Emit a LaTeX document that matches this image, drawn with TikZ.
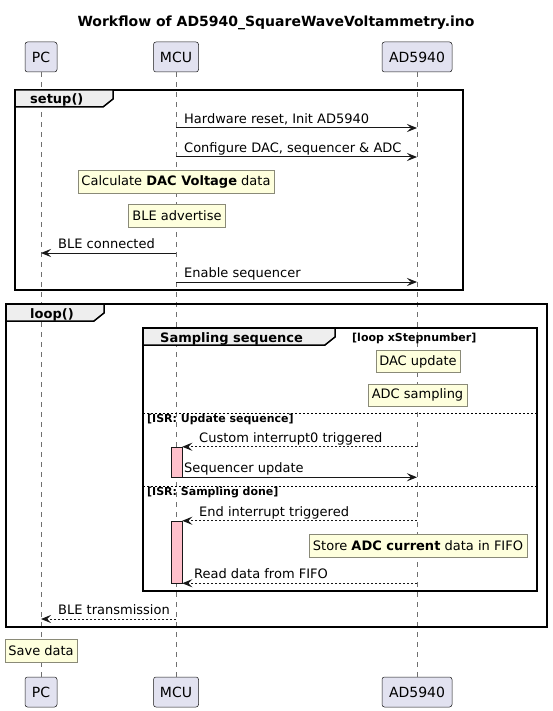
\documentclass[tikz,border=0pt]{standalone}
\usepackage{fontspec}
\setmainfont{DejaVu Sans}
\usetikzlibrary{arrows.meta}
\definecolor{partfill}{HTML}{E2E2F0}
\definecolor{linec}{HTML}{181818}
\definecolor{lifec}{HTML}{707070}
\definecolor{notefill}{HTML}{FEFFDD}
\definecolor{notedraw}{HTML}{8A8A78}
\definecolor{tabfill}{HTML}{EEEEEE}
\definecolor{actfill}{HTML}{FFC0CB}
\begin{document}
\begin{tikzpicture}[x=1pt,y=-1pt,
 part/.style={draw=linec, fill=partfill, rounded corners=2.5pt, line width=0.5pt, minimum height=30pt, inner sep=0pt, font=\fontsize{14}{16}\selectfont},
 lifeline/.style={draw=lifec, line width=0.5pt, dash pattern=on 5pt off 5pt},
 msg/.style={draw=linec, line width=1pt, -{Stealth[length=10pt,width=8pt,inset=4pt]}},
 rmsg/.style={msg, dash pattern=on 2pt off 2pt},
 msgtxt/.style={anchor=base west, inner sep=0pt, font=\fontsize{13}{15}\selectfont},
 note/.style={draw=notedraw, fill=notefill, line width=0.6pt, minimum height=23pt, inner sep=0pt, font=\fontsize{13}{15}\selectfont},
 frm/.style={draw=black, line width=1.5pt},
 tabshape/.style={draw=black, fill=tabfill, line width=1.5pt},
 frmlbl/.style={anchor=base west, inner sep=0pt, font=\bfseries\fontsize{13}{15}\selectfont},
 guard/.style={anchor=base west, inner sep=0pt, font=\bfseries\fontsize{11}{13}\selectfont},
 sepline/.style={draw=black, line width=1pt, dash pattern=on 2pt off 2pt},
 act/.style={draw=linec, fill=actfill, line width=0.5pt, minimum width=11pt, inner sep=0pt}
]
\fill[white] (0,0) rectangle (552,711);
\path[use as bounding box] (0,0) rectangle (552,711);

% title
\node[font=\bfseries\fontsize{14}{16}\selectfont] (title) at (276,23) {Workflow of AD5940\_SquareWaveVoltammetry.ino};

% participants
\node[part, minimum width=32pt] (pcT) at (41,57) {PC};
\node[part, minimum width=45pt] (mcuT) at (176,57) {MCU};
\node[part, minimum width=70pt] (adT) at (417,57) {AD5940};
\node[part, minimum width=32pt] (pcB) at (41,692) {PC};
\node[part, minimum width=45pt] (mcuB) at (176,692) {MCU};
\node[part, minimum width=70pt] (adB) at (417,692) {AD5940};

% lifelines
\draw[lifeline] (pcT.south) -- (pcB.north);
\draw[lifeline] (mcuT.south) -- (mcuB.north);
\draw[lifeline] (adT.south) -- (adB.north);

% setup frame
\draw[frm] (15,90) rectangle (463,290);
\draw[tabshape] (15,90) -- (113,90) -- (113,99) -- (103,107) -- (15,107) -- cycle;
\node[frmlbl] (setuplbl) at (30,104) {setup()};

\draw[msg] (mcuT |- 0,128) -- (adT |- 0,128);
\node[msgtxt] (t1) at (184,123.5) {Hardware reset, Init AD5940};
\draw[msg] (mcuT |- 0,157) -- (adT |- 0,157);
\node[msgtxt] (t2) at (184,152.5) {Configure DAC, sequencer \& ADC};
\node[note, minimum width=196pt] (n1) at (176,181.5) {Calculate \textbf{DAC Voltage} data};
\node[note, minimum width=97pt] (n2) at (177,215.5) {BLE advertise};
\draw[msg] (mcuT |- 0,253) -- (pcT |- 0,253);
\node[msgtxt] (t3) at (58,248.5) {BLE connected};
\draw[msg] (mcuT |- 0,282) -- (adT |- 0,282);
\node[msgtxt] (t4) at (184,277.5) {Enable sequencer};

% loop frame
\draw[frm] (6,304) rectangle (547,627);
\draw[tabshape] (6,304) -- (104,304) -- (104,313) -- (94,321) -- (6,321) -- cycle;
\node[frmlbl] (looplbl) at (30,318) {loop()};

% sampling frame
\draw[frm] (143,328) rectangle (537,591);
\draw[tabshape] (143,328) -- (335,328) -- (335,337) -- (325,345) -- (143,345) -- cycle;
\node[frmlbl] (samplbl) at (160,342) {Sampling sequence};
\node[guard] (g0) at (352,341.5) {[loop xStepnumber]};

\node[note, minimum width=84pt, minimum height=22pt] (n3) at (418,361.7) {DAC update};
\node[note, minimum width=99pt, minimum height=22pt] (n4) at (417.5,395) {ADC sampling};

\draw[sepline] (143,413.3) -- (537,413.3);
\node[guard] (g1) at (147,422) {[ISR: Update sequence]};

\node[act, minimum height=30pt] (act1) at (176.5,462) {};
\draw[rmsg] (adT |- act1.north east) -- (act1.north east);
\node[msgtxt] (t5) at (199,442.5) {Custom interrupt0 triggered};
\draw[msg] (act1.south east) -- (adT |- act1.south east);
\node[msgtxt] (t6) at (184,472.5) {Sequencer update};

\draw[sepline] (143,486) -- (537,486);
\node[guard] (g2) at (147,495.5) {[ISR: Sampling done]};

\node[act, minimum height=62pt] (act2) at (176.5,552) {};
\draw[rmsg] (adT |- act2.north east) -- (act2.north east);
\node[msgtxt] (t7) at (199,516.5) {End interrupt triggered};
\node[note, minimum width=218pt] (n5) at (418,545.5) {Store \textbf{ADC current} data in FIFO};
\draw[rmsg] (adT |- act2.south east) -- (act2.south east);
\node[msgtxt] (t8) at (194,578.5) {Read data from FIFO};

\draw[rmsg] (mcuT |- 0,619) -- (pcT |- 0,619);
\node[msgtxt] (t9) at (58,614.5) {BLE transmission};

\node[note, minimum width=72pt] (n6) at (41,651) {Save data};
\end{tikzpicture}
\end{document}
